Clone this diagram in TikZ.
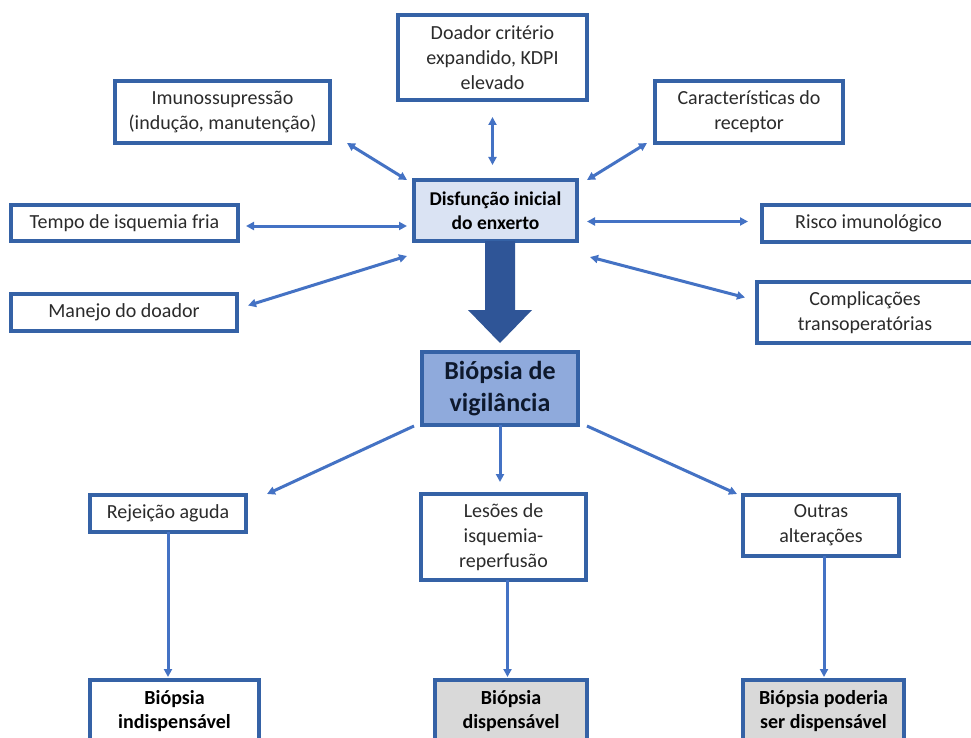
\documentclass[tikz,border=0pt]{standalone}
\usepackage{fontspec}
\setmainfont{Carlito}
\usetikzlibrary{arrows.meta,calc}
\definecolor{boxblue}{HTML}{3562A6}
\definecolor{lineblue}{HTML}{4472C4}
\definecolor{darkblue}{HTML}{2F5597}
\definecolor{paleblue}{HTML}{DAE3F3}
\definecolor{midblue}{HTML}{8FAADC}
\definecolor{resultgray}{HTML}{D9D9D9}
\definecolor{textgray}{HTML}{2B2B2B}

\begin{document}
\begin{tikzpicture}[x=1pt,y=-1pt,>={Triangle[length=8pt,width=8pt]},
  factor/.style={draw=boxblue,line width=3.2pt,fill=white,inner sep=0pt,outer sep=0pt,
    align=center,text=textgray,font=\fontsize{20}{25}\selectfont},%
  central/.style={factor,fill=paleblue,text=black,font=\bfseries\fontsize{19.5}{24}\selectfont},%
  mainbox/.style={factor,fill=midblue,text=darkblue!30!black,font=\bfseries\fontsize{26}{32}\selectfont},%
  result/.style={factor,text=black,font=\bfseries\fontsize{20}{24}\selectfont},%
  grayresult/.style={result,fill=resultgray},%
  twoway/.style={<->,draw=lineblue,line width=3pt},%
  oneway/.style={->,draw=lineblue,line width=3pt},%
  bigarrow/.style={fill=darkblue}]
\useasboundingbox (0,0) rectangle (971,738);
\clip (0,0) rectangle (971,738);
\fill[white] (0,0) rectangle (971,738);
% factors around the initial dysfunction
\node[factor,minimum width=189,minimum height=85] (doador) at (492.5,57.5) {Doador critério\\expandido, KDPI\\elevado};
\node[factor,minimum width=215,minimum height=62] (imuno) at (222.5,112) {Imunossupressão\\(indução, manutenção)};
\node[factor,minimum width=188,minimum height=62] (carac) at (749,112) {Características do\\receptor};
\node[central,minimum width=163,minimum height=61] (disf) at (495.5,210.5) {Disfunção inicial\\do enxerto};
\node[factor,minimum width=227,minimum height=36] (tempo) at (124.5,223) {Tempo de isquemia fria};
\node[factor,minimum width=213,minimum height=37] (risco) at (868.5,223.5) {Risco imunológico};
\node[factor,minimum width=226,minimum height=37] (manejo) at (124,312.5) {Manejo do doador};
\node[factor,minimum width=216,minimum height=61] (compl) at (865,312.5) {Complicações\\transoperatórias};
% biopsy and findings
\node[mainbox,minimum width=156,minimum height=73] (vigil) at (500,388.5) {Biópsia de\\vigilância};
\node[factor,minimum width=156,minimum height=37] (rejeic) at (168,513.5) {Rejeição aguda};
\node[factor,minimum width=165,minimum height=86] (lesoes) at (503.5,537) {Lesões de\\isquemia-\\reperfusão};
\node[factor,minimum width=156,minimum height=61] (outras) at (821,525.5) {Outras\\alterações};
\node[result,minimum width=169,minimum height=62] (indisp) at (174.5,711) {Biópsia\\indispensável};
\node[grayresult,minimum width=152,minimum height=62] (disp) at (511,711) {Biópsia\\dispensável};
\node[grayresult,minimum width=161,minimum height=62] (poder) at (823.5,711) {Biópsia poderia\\ser dispensável};
% two-way links
\draw[twoway,shorten <=17pt,shorten >=15pt] (doador.south) -- (doador.south |- disf.north);
\draw[twoway] ($(imuno.south east)+(17,0)$) -- ($(disf.north west)+(-7,0)$);
\draw[twoway] ($(disf.north east)+(10,0)$) -- ($(carac.south west)+(-8,0)$);
\draw[twoway,shorten <=8pt,shorten >=7pt] ($(tempo.east)+(0,3)$) -- ($(tempo.east -| disf.west)+(0,3)$);
\draw[twoway,shorten <=10pt,shorten >=14pt] ($(risco.west -| disf.east)+(0,-2)$) -- ($(risco.west)+(0,-2)$);
\draw[twoway] ($(manejo.east)+(11,-7)$) -- ($(disf.south west)+(-7,15)$);
\draw[twoway] ($(disf.south east)+(13,16)$) -- ($(compl.west)+(-12,-15)$);
% main arrow
\coordinate (top) at (disf.south -| vigil.north);
\fill[bigarrow] (top) ++(-15,0) -- ++(0,69) -- ++(-17,0) -- ++(32,33) -- ++(32,-33) -- ++(-17,0) -- ++(0,-69) -- cycle;
% findings and outcomes
\draw[oneway] ($(vigil.south west)+(-8,1)$) -- ($(rejeic.north east)+(21,-1)$);
\draw[oneway,shorten >=12pt] (vigil.south) -- (vigil.south |- lesoes.north);
\draw[oneway] ($(vigil.south east)+(9,1)$) -- ($(outras.north west)+(-6,-1)$);
\draw[oneway,shorten >=3pt] (rejeic.south) -- (rejeic.south |- indisp.north);
\draw[oneway,shorten >=3pt] ($(lesoes.south)+(4,0)$) -- ($(lesoes.south |- disp.north)+(4,0)$);
\draw[oneway,shorten >=3pt] ($(outras.south)+(3,0)$) -- ($(outras.south |- poder.north)+(3,0)$);
\end{tikzpicture}
\end{document}
